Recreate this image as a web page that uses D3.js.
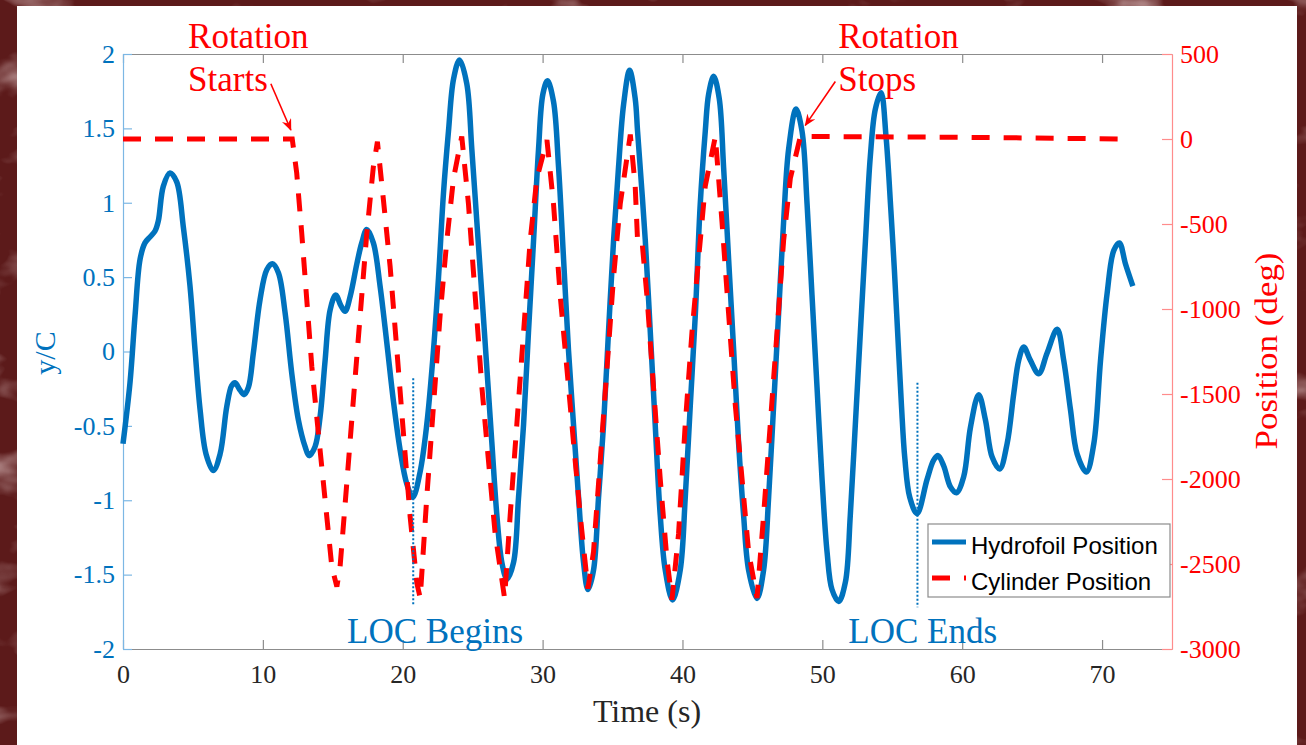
<!DOCTYPE html>
<html>
<head>
<meta charset="utf-8">
<script src="https://cdn.jsdelivr.net/npm/d3@7"></script>
<style>
  body { margin: 0; background: #5c1a1a; }
  svg { display: block; }
</style>
</head>
<body>
<div id="chart"></div>
<script>
// hydrofoil heave, y/C (left axis)
var hydroTime = [0, 0.50, 0.86, 1.22, 1.57, 1.93, 2.29, 2.53, 2.88, 3.36, 3.84, 4.31, 4.79, 5.15, 5.51, 5.94,
  6.46, 6.94, 7.42, 7.77, 8.01, 8.37, 8.66, 8.97, 9.32, 9.80, 10.28, 10.68, 11.11, 11.59, 12.07, 12.54,
  13.02, 13.30, 13.73, 14.09, 14.45, 14.81, 15.21, 15.57, 15.88, 16.24, 16.72, 17.07, 17.43, 17.90, 18.38,
  18.86, 19.33, 19.81, 20.29, 20.72, 21.24, 21.72, 22.20, 22.56, 22.91, 23.27, 23.63, 24.06, 24.58, 24.94,
  25.30, 25.66, 26.02, 26.37, 26.73, 27.09, 27.45, 27.92, 28.28, 28.64, 28.99, 29.35, 29.71, 30.02, 30.35,
  30.78, 31.14, 31.50, 31.85, 32.21, 32.57, 32.93, 33.24, 33.64, 34.00, 34.36, 34.71, 35.07, 35.43, 35.79,
  36.22, 36.62, 36.79, 37.34, 37.70, 38.05, 38.41, 38.77, 39.29, 39.84, 40.20, 40.56, 40.92, 41.27, 41.63,
  41.87, 42.23, 42.63, 42.94, 43.30, 43.66, 44.01, 44.37, 44.73, 45.33, 45.80, 46.16, 46.52, 46.87, 47.23,
  47.59, 48.12, 48.55, 48.91, 49.26, 49.62, 49.98, 50.34, 50.69, 51.17, 51.65, 52.00, 52.36, 52.72, 53.08,
  53.43, 53.79, 54.20, 54.55, 54.90, 55.15, 55.40, 55.65, 55.90, 56.25, 56.77, 57.49, 57.96, 58.28, 58.68,
  59.16, 59.59, 60.11, 60.59, 61.18, 61.66, 62.14, 62.68, 63.21, 63.69, 64.04, 64.40, 64.88, 65.47, 66.07,
  66.79, 67.26, 67.74, 68.22, 68.88, 69.41, 69.89, 70.36, 70.84, 71.24, 71.67, 72.20];
var hydroPos = [-0.62, -0.21, 0.24, 0.62, 0.73, 0.77, 0.81, 0.88, 1.11, 1.20, 1.14, 0.84, 0.44, 0.01, -0.39, -0.69,
  -0.80, -0.69, -0.37, -0.23, -0.21, -0.26, -0.29, -0.24, -0.01, 0.35, 0.55, 0.59, 0.53, 0.26, -0.15, -0.46,
  -0.64, -0.70, -0.64, -0.44, -0.06, 0.28, 0.38, 0.31, 0.27, 0.37, 0.59, 0.73, 0.82, 0.73, 0.44,
  0.06, -0.33, -0.66, -0.89, -0.98, -0.81, -0.49, 0.01, 0.50, 1.06, 1.48, 1.83, 1.96, 1.80, 1.36,
  0.87, 0.38, -0.12, -0.61, -1.10, -1.42, -1.53, -1.42, -0.98, -0.49, 0.13, 0.74, 1.36, 1.73, 1.82,
  1.68, 1.24, 0.62, 0.01, -0.49, -0.98, -1.42, -1.60, -1.47, -0.98, -0.49, 0.13, 0.74, 1.24, 1.66,
  1.89, 1.70, 1.48, 0.75, 0.13, -0.49, -1.10, -1.47, -1.67, -1.47, -0.98, -0.36, 0.25, 0.99, 1.48,
  1.73, 1.85, 1.70, 1.24, 0.62, 0.01, -0.61, -1.10, -1.47, -1.66, -1.47, -0.98, -0.36, 0.25, 0.87,
  1.36, 1.63, 1.48, 0.99, 0.38, -0.24, -0.86, -1.35, -1.60, -1.68, -1.55, -1.10, -0.49, 0.13, 0.74,
  1.31, 1.63, 1.74, 1.45, 0.95, 0.55, 0.10, -0.35, -0.72, -0.98, -1.09, -0.86, -0.73, -0.70, -0.77,
  -0.91, -0.95, -0.84, -0.51, -0.29, -0.46, -0.71, -0.79, -0.62, -0.28, -0.06, 0.03, -0.06, -0.15, -0.01,
  0.15, -0.06, -0.39, -0.69, -0.81, -0.62, -0.06, 0.39, 0.68, 0.73, 0.59, 0.44];

// cylinder angular position, deg (right axis)
var cylTime = [0, 12.10, 12.42, 12.78, 13.14, 13.50, 13.97, 14.45, 14.93, 15.29, 15.52, 16.00, 16.47, 16.95,
  17.43, 17.90, 18.19, 18.62, 19.10, 19.58, 20.05, 20.53, 21.01, 21.25, 21.72, 22.20, 22.68, 23.15, 23.63,
  24.22, 24.70, 25.18, 25.66, 26.13, 26.61, 27.28, 27.68, 28.16, 28.64, 29.11, 29.59, 30.31, 30.78, 31.26,
  31.74, 32.21, 32.69, 33.24, 33.64, 34.12, 34.60, 35.07, 35.55, 36.27, 36.62, 36.79, 37.10, 37.46, 37.93,
  38.41, 38.89, 39.25, 39.72, 40.20, 40.68, 41.15, 41.63, 42.35, 42.83, 43.30, 43.78, 44.26, 44.73, 45.33,
  45.80, 46.28, 46.76, 47.23, 47.71, 48.43, 60.00, 71.90];
var cylPos = [0, 0, -200, -555, -947, -1339, -1731, -2123, -2516, -2633, -2516, -2025, -1535, -1045,
  -555, -163, -16, -359, -751, -1241, -1731, -2222, -2613, -2700, -2106, -1568, -1029, -599, -232,
  15, -382, -922, -1461, -1892, -2323, -2700, -2215, -1676, -1137, -599, -232, -6, -382, -922,
  -1353, -1784, -2215, -2645, -2429, -1892, -1353, -814, -382, 26, -276, -599, -594, -922, -1461,
  -2000, -2473, -2710, -2323, -1676, -1137, -707, -276, 15, -491, -1029, -1568, -2000, -2429, -2700,
  -2215, -1676, -1137, -599, -232, 15, 10, 0];

var xTicks = [0, 10, 20, 30, 40, 50, 60, 70];
var leftTicks = [-2, -1.5, -1, -0.5, 0, 0.5, 1, 1.5, 2];
var rightTicks = [-3000, -2500, -2000, -1500, -1000, -500, 0, 500];
var seriesNames = ["Hydrofoil Position", "Cylinder Position"];

// lock-on markers (time, top and bottom in y/C)
var locLabels = ["LOC Begins", "LOC Ends"];
var locTime = [20.75, 56.8];
var locTop = [-0.18, -0.21];
var locBottom = [-1.70, -1.72];
var locTextTime = [16.02, 51.86];

// rotation annotations
var rotLabels = [["Rotation", "Starts"], ["Rotation", "Stops"]];
var rotTextTime = [4.65, 51.14];
var rotArrowFrom = [[10.57, 1.80], [50.93, 1.815]];
var rotArrowTo = [[12.0, 1.489], [48.78, 1.52]];

var W = 1306, H = 745;
var blue = "#0072BD", red = "#FF0000";
var serif = "'Liberation Serif', 'DejaVu Serif', serif";

var svg = d3.select("#chart").append("svg")
  .attr("width", W).attr("height", H);

// slide background
var defs = svg.append("defs");
var f = defs.append("filter").attr("id", "marble")
  .attr("x", 0).attr("y", 0).attr("width", 1).attr("height", 1);
f.append("feTurbulence").attr("type", "fractalNoise")
  .attr("baseFrequency", "0.012 0.02").attr("numOctaves", 4).attr("seed", 7);
f.append("feColorMatrix").attr("type", "matrix")
  .attr("values", "0 0 0 0 0.78  0 0 0 0 0.6  0 0 0 0 0.6  0 0 0 2.0 -1.1");
defs.append("marker").attr("id", "head")
  .attr("viewBox", "0 0 12 10").attr("refX", 11).attr("refY", 5)
  .attr("markerWidth", 12).attr("markerHeight", 10)
  .attr("markerUnits", "userSpaceOnUse").attr("orient", "auto")
  .append("path").attr("d", "M0,0 L12,5 L0,10 L4,5 Z").attr("fill", red);

svg.append("rect").attr("width", W).attr("height", H).attr("fill", "#5c1a1a");
svg.append("rect").attr("width", W).attr("height", H).attr("filter", "url(#marble)");
svg.append("rect").attr("x", 17).attr("y", 6).attr("width", 1280).attr("height", H - 6)
  .attr("fill", "#ffffff");

var x = d3.scaleLinear().domain([0, 75]).range([123, 1172]);
var yL = d3.scaleLinear().domain([-2, 2]).range([649, 54]);
var yR = d3.scaleLinear().domain([-3000, 500]).range([649, 54]);

function styleAxis(g, lineColor, textColor) {
  g.select(".domain").attr("stroke", lineColor).attr("stroke-width", 1.2);
  g.selectAll(".tick line").attr("stroke", lineColor).attr("stroke-width", 1.2);
  g.selectAll(".tick text").attr("fill", textColor)
    .style("font-family", serif).style("font-size", "26px");
}

var gx = svg.append("g").attr("transform", "translate(0,649)")
  .call(d3.axisBottom(x).tickValues(xTicks).tickSize(-9).tickSizeOuter(0).tickPadding(16)
    .tickFormat(function(d) { return String(d); }));
styleAxis(gx, "#8c8c8c", "#262626");

var gt = svg.append("g").attr("transform", "translate(0,54)")
  .call(d3.axisTop(x).tickValues(xTicks).tickSize(-9).tickSizeOuter(0).tickFormat(""));
styleAxis(gt, "#8c8c8c", "#262626");

var gl = svg.append("g").attr("transform", "translate(123,0)")
  .call(d3.axisLeft(yL).tickValues(leftTicks).tickSize(-9).tickSizeOuter(0).tickPadding(8)
    .tickFormat(function(d) { return String(d); }));
styleAxis(gl, "#7cb7e4", blue);

var gr = svg.append("g").attr("transform", "translate(1172,0)")
  .call(d3.axisRight(yR).tickValues(rightTicks).tickSize(-10).tickSizeOuter(0).tickPadding(8)
    .tickFormat(function(d) { return String(d); }));
styleAxis(gr, "#ff8c8c", red);

// axis titles
svg.append("text").attr("transform", "translate(55,353) rotate(-90)")
  .attr("text-anchor", "middle").attr("fill", blue)
  .style("font-family", serif).style("font-size", "30px").text("y/C");
svg.append("text").attr("x", 647).attr("y", 722)
  .attr("text-anchor", "middle").attr("fill", "#262626")
  .style("font-family", serif).style("font-size", "32px").text("Time (s)");
svg.append("text").attr("transform", "translate(1277,351) rotate(-90)")
  .attr("text-anchor", "middle").attr("fill", red)
  .attr("textLength", 197).attr("lengthAdjust", "spacingAndGlyphs")
  .style("font-family", serif).style("font-size", "32px").text("Position (deg)");

// series
var hydro = hydroTime.map(function(t, i) { return [t, hydroPos[i]]; });
var cyl = cylTime.map(function(t, i) { return [t, cylPos[i]]; });

svg.append("path").datum(hydro)
  .attr("fill", "none").attr("stroke", blue).attr("stroke-width", 5.5)
  .attr("stroke-linejoin", "round")
  .attr("d", d3.line().curve(d3.curveCatmullRom.alpha(0.5))
    .x(function(d) { return x(d[0]); }).y(function(d) { return yL(d[1]); }));

svg.append("path").datum(cyl)
  .attr("fill", "none").attr("stroke", red).attr("stroke-width", 5)
  .attr("stroke-dasharray", "18,14")
  .attr("d", d3.line()
    .x(function(d) { return x(d[0]); }).y(function(d) { return yR(d[1]); }));

// lock-on markers
locTime.forEach(function(t, i) {
  svg.append("line")
    .attr("x1", x(t)).attr("x2", x(t))
    .attr("y1", yL(locTop[i])).attr("y2", yL(locBottom[i]))
    .attr("stroke", blue).attr("stroke-width", 2).attr("stroke-dasharray", "2,2");
  svg.append("text").attr("x", x(locTextTime[i])).attr("y", 643)
    .attr("fill", blue).style("font-family", serif).style("font-size", "35px")
    .text(locLabels[i]);
});

// rotation annotations
rotLabels.forEach(function(lines, i) {
  lines.forEach(function(s, j) {
    svg.append("text").attr("x", x(rotTextTime[i])).attr("y", 48 + j * 43)
      .attr("fill", red).style("font-family", serif).style("font-size", "35px").text(s);
  });
  svg.append("line")
    .attr("x1", x(rotArrowFrom[i][0])).attr("y1", yL(rotArrowFrom[i][1]))
    .attr("x2", x(rotArrowTo[i][0])).attr("y2", yL(rotArrowTo[i][1]))
    .attr("stroke", red).attr("stroke-width", 1.6).attr("marker-end", "url(#head)");
});

// legend
var lg = svg.append("g").attr("transform", "translate(928,524)");
lg.append("rect").attr("width", 242).attr("height", 73)
  .attr("fill", "#ffffff").attr("stroke", "#8c8c8c").attr("stroke-width", 1.2);
seriesNames.forEach(function(name, i) {
  var yy = 18 + i * 36;
  lg.append("line").attr("x1", 4).attr("x2", 38).attr("y1", yy).attr("y2", yy)
    .attr("stroke", i === 0 ? blue : red).attr("stroke-width", 5)
    .attr("stroke-dasharray", i === 0 ? null : "18,14");
  lg.append("text").attr("x", 43).attr("y", yy + 12)
    .attr("fill", "#000000")
    .style("font-family", "'Liberation Sans', Arial, sans-serif").style("font-size", "24px")
    .text(name);
});
</script>
</body>
</html>
